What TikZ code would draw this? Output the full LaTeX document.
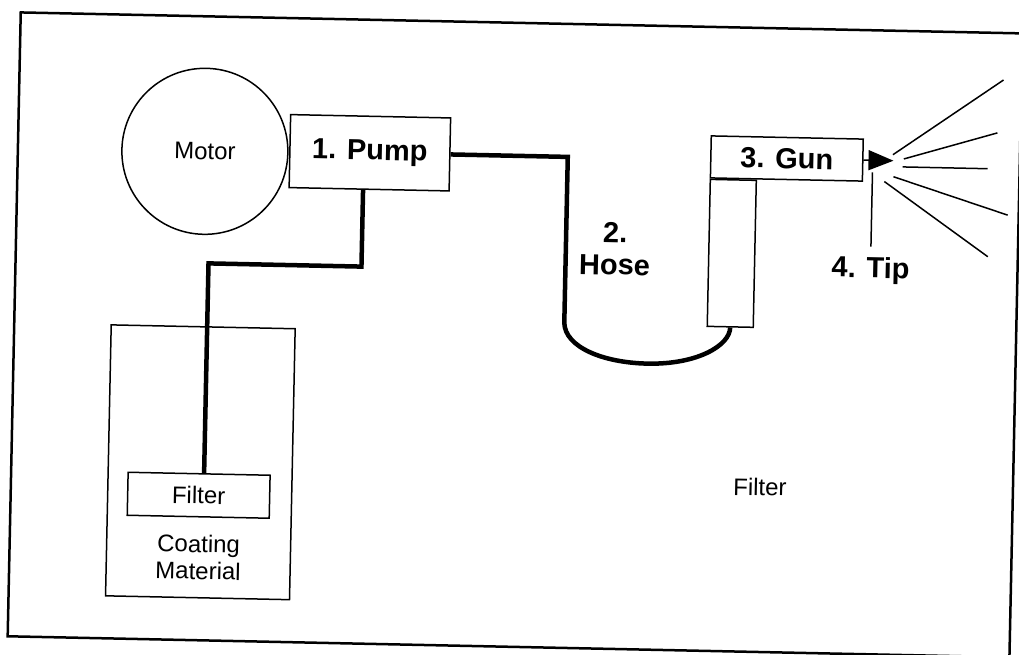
\documentclass[tikz,border=0pt]{standalone}
\usepackage{fontspec}
\setmainfont{Liberation Sans}
\usetikzlibrary{arrows.meta,positioning}

\begin{document}
\begin{tikzpicture}[x=1pt,y=-1pt,
	part/.style={draw,line width=1.5pt,inner sep=0pt},
	lbl/.style={font=\fontsize{24}{27}\selectfont,align=center,inner sep=2pt},
	big/.style={font=\fontsize{29}{32}\selectfont\bfseries,align=center,inner sep=2pt},
	hose/.style={line width=4.5pt},
	spray/.style={line width=1.5pt}]
\useasboundingbox (0,0) rectangle (1019,655);
\clip (0,0) rectangle (1019,655);
\begin{scope}[rotate=-1.2,transform shape]
\draw[line width=2.5pt] (21,12) rectangle (1023,636);
\node[part,circle,minimum size=166pt,lbl] (motor) at (208,147) {Motor};
\node[part,minimum width=160pt,minimum height=73pt,big] (pump) at (373,145) {1. Pump};
\node[part,minimum width=152pt,minimum height=42pt,big] (gun) at (790,142) {3. Gun};
\node[part,minimum width=46pt,minimum height=147pt,anchor=north west] (handle) at (gun.south west) {};
\node[part,minimum width=184pt,minimum height=271pt] (tank) at (210,458) {};
\node[part,minimum width=142pt,minimum height=43pt,lbl] (filter) at (209,491) {Filter};
\node[lbl] (coat) at (210,553) {Coating\\Material};
\node[lbl] (filter2) at (770,471) {Filter};
\node[big] (hoselbl) at (620,236) {2.\\Hose};
\node[big] (tiplbl) at (876,252) {4. Tip};

\coordinate (s1) at (367,259);
\coordinate (s2) at (214,259);
\coordinate (h1) at (571,145);
\coordinate (h2) at (571,311);
\coordinate (tipfoot) at (876,154);

% pump to tank
\draw[hose] (pump.south -| s1) -- (s1) -- (s2) -- (filter.north -| s2);
% hose to gun
\draw[hose] (pump.east) -- (h1) -- (h2) .. controls (572,335) and (610,350) .. (655,350)
	.. controls (705,350) and (737,330) .. (handle.south);
% tip
\draw[spray,-{Triangle[length=25pt,width=20pt]}] (gun.east) -- ++(30,0) coordinate (tip);
\draw[spray,shorten >=8pt] (tipfoot) -- (tiplbl.north);
\foreach \a/\b/\c/\d in {896/136/1005/59, 907/140/1000/112, 906/148/991/148, 897/158/1012/194, 888/163/993/236}
	\draw[spray] (\a,\b) -- (\c,\d);
\end{scope}
\end{tikzpicture}
\end{document}
